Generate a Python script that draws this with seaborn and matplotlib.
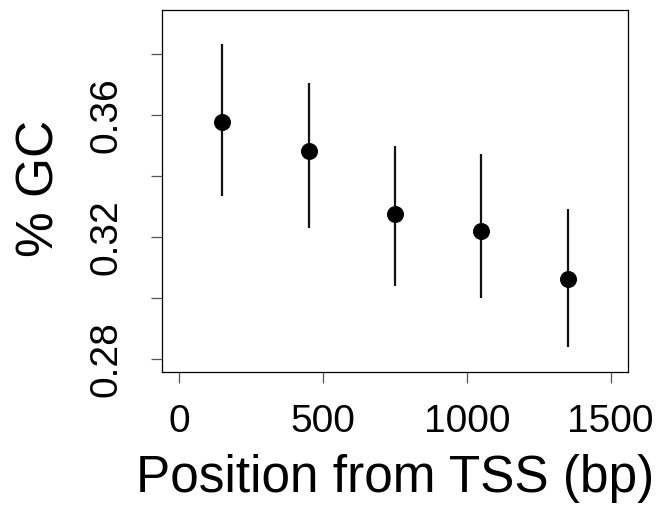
import matplotlib
matplotlib.use("Agg")
import matplotlib.pyplot as plt
import seaborn as sns
import pandas as pd

# Data
position = [150, 450, 750, 1050, 1350]
gc_mean = [0.3575, 0.3482, 0.3273, 0.3218, 0.3061]
gc_lower = [0.3333, 0.3227, 0.3037, 0.2998, 0.2837]
gc_upper = [0.3832, 0.3704, 0.3498, 0.3470, 0.3291]

x_ticks = [0, 500, 1000, 1500]
y_ticks = [0.28, 0.30, 0.32, 0.34, 0.36, 0.38]
y_tick_labels = ["0.28", "", "0.32", "", "0.36", ""]

df = pd.DataFrame({"pos": position, "gc": gc_mean, "lo": gc_lower, "hi": gc_upper})

sns.set_style("white")
plt.rcParams["font.family"] = ["Liberation Sans", "DejaVu Sans"]
plt.rcParams["text.color"] = "black"
plt.rcParams["axes.labelcolor"] = "black"

W, H = 661, 507
fig = plt.figure(figsize=(W / 100, H / 100), dpi=100)
L, R, T, B = 162, 628, 10, 372
ax = fig.add_axes([L / W, 1 - B / H, (R - L) / W, (B - T) / H])

ax.vlines(df["pos"], df["lo"], df["hi"], color="#111111", linewidth=1.6, zorder=2)
sns.scatterplot(data=df, x="pos", y="gc", ax=ax, s=150, color="black",
                edgecolor="black", linewidth=0, zorder=3, legend=False)

ax.set_xlim(-60, 1560)
ax.set_ylim(0.2756, 0.3944)

ax.set_xticks(x_ticks)
ax.set_xticklabels([str(v) for v in x_ticks])
ax.set_yticks(y_ticks)
ax.set_yticklabels(y_tick_labels)

for s in ax.spines.values():
    s.set_color("black")
    s.set_linewidth(0.9)
    s.set_visible(True)

ax.tick_params(axis="both", which="major", direction="out", length=8,
               width=0.9, color="#555555", labelsize=28, labelcolor="black",
               left=True, bottom=True)
ax.tick_params(axis="x", pad=35)
ax.tick_params(axis="y", pad=24.5)
for lab in ax.get_xticklabels():
    lab.set_va("baseline")
for lab in ax.get_yticklabels():
    lab.set_rotation(90)
    lab.set_rotation_mode("anchor")
    lab.set_ha("center")
    lab.set_va("baseline")

ax.set_xlabel("Position from TSS (bp)", fontsize=37, color="black")
ax.set_ylabel("% GC", fontsize=37, color="black")
ax.xaxis.label.set_va("baseline")
ax.xaxis.set_label_coords(395 / W, 1 - 492 / H, transform=fig.transFigure)
ax.yaxis.label.set_rotation_mode("anchor")
ax.yaxis.label.set_va("baseline")
ax.yaxis.label.set_ha("center")
ax.yaxis.set_label_coords(53 / W, 1 - 188 / H, transform=fig.transFigure)

fig.savefig("out.png", dpi=100)
